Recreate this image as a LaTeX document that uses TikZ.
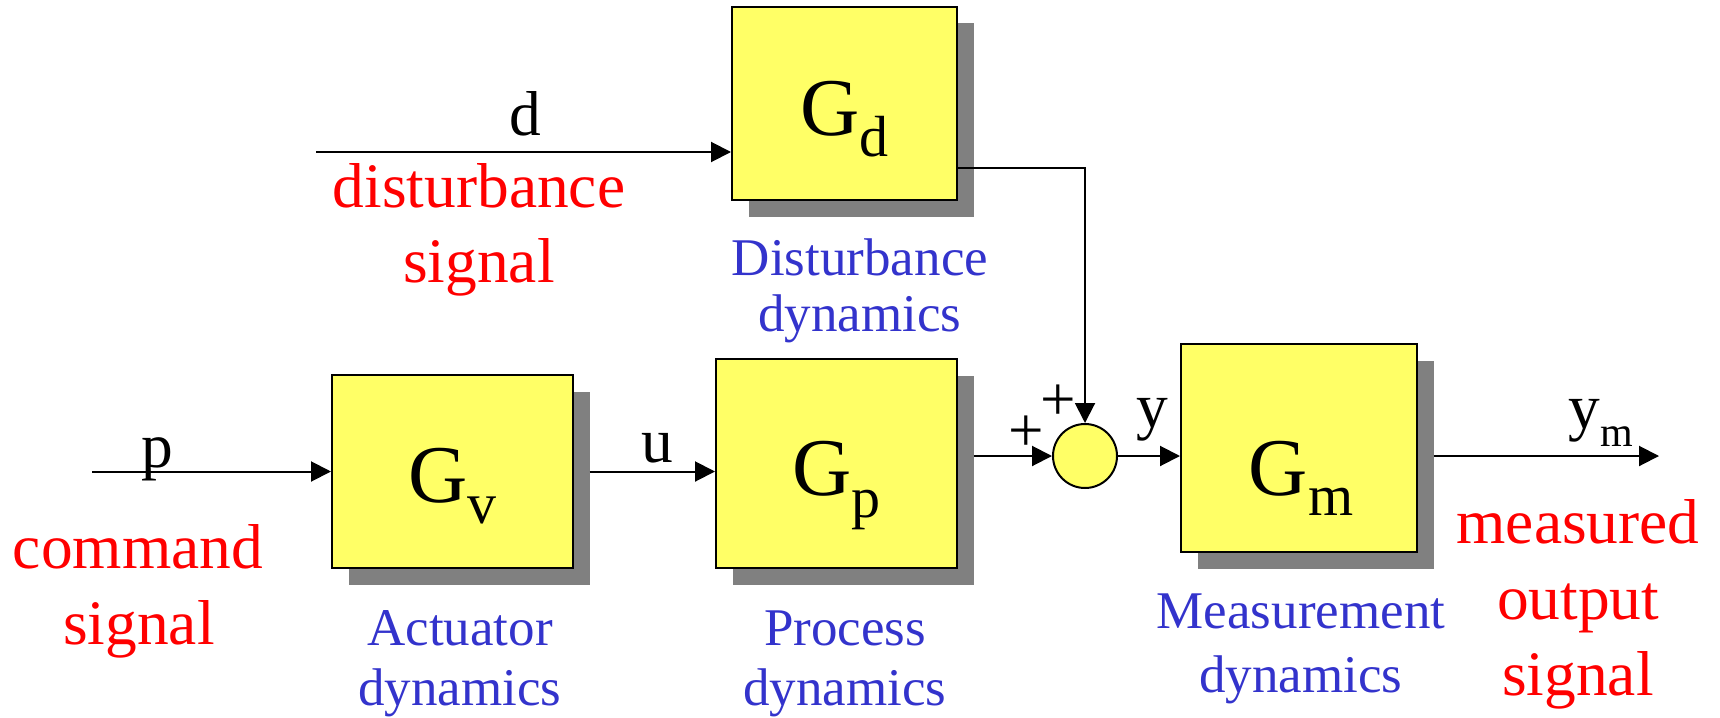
\documentclass[tikz,border=0pt]{standalone}
\usepackage{fontspec}
\setmainfont{Liberation Serif}
\usetikzlibrary{arrows.meta}
\definecolor{boxyellow}{HTML}{FFFF66}
\definecolor{shadowgray}{HTML}{808080}
\definecolor{lblblue}{HTML}{3333CC}
\definecolor{lblred}{HTML}{FF0000}
\tikzset{
  blockbox/.style={draw=black, line width=2pt, fill=boxyellow, inner sep=0pt},
  shadowbox/.style={fill=shadowgray, inner sep=0pt},
  sumcircle/.style={circle, draw=black, line width=2pt, fill=boxyellow, inner sep=0pt, minimum size=64pt},
  sig/.style={line width=2pt, -{Triangle[length=20pt,width=20pt]}},
  redtxt/.style={text=lblred, anchor=base, inner sep=0pt, font=\fontsize{63.4}{76}\selectfont},
  bluetxt/.style={text=lblblue, anchor=base, inner sep=0pt, font=\fontsize{53}{60}\selectfont},
  sigtxt/.style={text=black, anchor=base, inner sep=0pt, font=\fontsize{63.4}{76}\selectfont},
  gtxt/.style={text=black, anchor=base, inner sep=0pt, font=\fontsize{82}{82}\selectfont},
}
\newcommand{\subsc}[2]{\raisebox{-#1pt}{\fontsize{58}{58}\selectfont #2}}
\begin{document}
\begin{tikzpicture}[x=1pt,y=-1pt]
\useasboundingbox (0,0) rectangle (1720,717);
% shadows
\node[shadowbox, minimum width=241pt, minimum height=193pt] (Gvsh) at (469,488) {};
\node[shadowbox, minimum width=241pt, minimum height=209pt] (Gpsh) at (853,480) {};
\node[shadowbox, minimum width=225pt, minimum height=193pt] (Gdsh) at (861,120) {};
\node[shadowbox, minimum width=236pt, minimum height=208pt] (Gmsh) at (1315.5,464.5) {};
% blocks
\node[blockbox, minimum width=241pt, minimum height=193pt] (Gv) at (452.5,471.5) {};
\node[blockbox, minimum width=241pt, minimum height=209pt] (Gp) at (836.5,463.5) {};
\node[blockbox, minimum width=225pt, minimum height=193pt] (Gd) at (844.5,103.5) {};
\node[blockbox, minimum width=236pt, minimum height=208pt] (Gm) at (1299,448) {};
\node[sumcircle] (sum) at (1085,456) {};
% block labels
\node[gtxt] (Gvl) at (452.5,502) {G\subsc{21}{v}};
\node[gtxt] (Gpl) at (836.5,495) {G\subsc{22}{p}};
\node[gtxt] (Gdl) at (844.5,135) {G\subsc{21}{d}};
\node[gtxt] (Gml) at (1301,495) {G\subsc{20}{m}};
% connectors
\coordinate (pstart) at (92,471.5);
\coordinate (dstart) at (316,152);
\coordinate (dcorner) at (1085,168);
\coordinate (yout) at (1659,456);
\draw[sig] (pstart) -- (Gv.west |- pstart);
\draw[sig] (Gvsh.east |- Gv.center) -- (Gp.west |- Gv.center);
\draw[sig] (dstart) -- (Gd.west |- dstart);
\draw[sig] (Gd.east |- dcorner) -- (dcorner) -- (sum.north);
\draw[sig] (Gpsh.east |- sum.center) -- (sum.west);
\draw[sig] (sum.east) -- (Gm.west |- sum.center);
\draw[sig] (Gmsh.east |- sum.center) -- (yout);
% signal labels
\node[sigtxt] (plbl) at (157,467) {p};
\node[sigtxt] (ulbl) at (657,462) {u};
\node[sigtxt] (dlbl) at (525,135) {d};
\node[sigtxt] (ylbl) at (1152,427) {y};
\node[sigtxt] (ymlbl) at (1601,428) {y\raisebox{-18pt}{\fontsize{42}{42}\selectfont m}};
\node[sigtxt, font=\fontsize{63}{63}\selectfont] (plus1) at (1026,451) {+};
\node[sigtxt, font=\fontsize{63}{63}\selectfont] (plus2) at (1058,420) {+};
% red labels
\node[redtxt] (cmd1) at (138,568) {command};
\node[redtxt] (cmd2) at (139,644) {signal};
\node[redtxt] (dist1) at (479,207) {disturbance};
\node[redtxt] (dist2) at (479,282) {signal};
\node[redtxt] (meas1) at (1578,543) {measured};
\node[redtxt] (meas2) at (1578,619) {output};
\node[redtxt] (meas3) at (1578,695) {signal};
% blue labels
\node[bluetxt] (act1) at (460,645) {Actuator};
\node[bluetxt] (act2) at (460,705) {dynamics};
\node[bluetxt] (proc1) at (845,645) {Process};
\node[bluetxt] (proc2) at (845,705) {dynamics};
\node[bluetxt] (dd1) at (860,275) {Disturbance};
\node[bluetxt] (dd2) at (860,331) {dynamics};
\node[bluetxt] (md1) at (1301,628) {Measurement};
\node[bluetxt] (md2) at (1301,692) {dynamics};
\end{tikzpicture}
\end{document}
